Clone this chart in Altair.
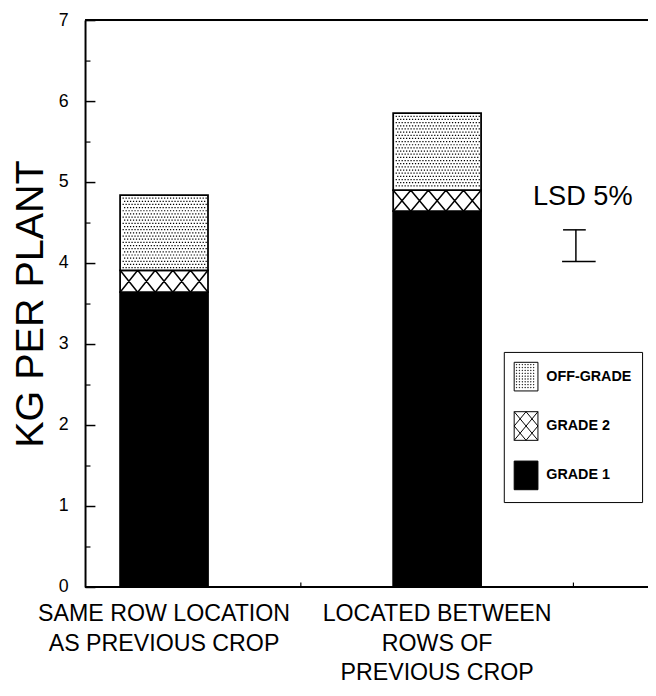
import altair as alt
import pandas as pd

# ---------------- data ----------------
locations = ["SAME ROW LOCATION|AS PREVIOUS CROP", "LOCATED BETWEEN|ROWS OF|PREVIOUS CROP"]
grade_names = ["GRADE 1", "GRADE 2", "OFF-GRADE"]
grade_1 = [3.64, 4.64]
grade_2 = [0.27, 0.26]
off_grade = [0.93, 0.95]
lsd_low = [4.02]
lsd_high = [4.41]
y_ticks = [0, 1, 2, 3, 4, 5, 6, 7]
y_minor_ticks = [0.5, 1.5, 2.5, 3.5, 4.5, 5.5, 6.5]
frame_lines = [0, 7]
legend_order = ["OFF-GRADE", "GRADE 2", "GRADE 1"]

# ---------------- layout / style ----------------
W, H = 570, 574
PX = H / 7.0
STEP = 276.5
BAR_W = 89
R = BAR_W / 2.0
FONT = "Liberation Sans"


def u(v, r=R):
    return f"{v / r:.4f}"


def hatch_path(h):
    p = BAR_W / 5.0
    parts = []
    for k in range(5):
        xa = -R + k * p
        xb = xa + p
        parts.append(f"M{u(xa)},{u(-h / 2)}L{u(xb)},{u(h / 2)}")
        parts.append(f"M{u(xb)},{u(-h / 2)}L{u(xa)},{u(h / 2)}")
    return "".join(parts)


def dots_path(h):
    parts = []
    d = 1.25
    y = -h / 2 + 2.5
    row = 0
    while y <= h / 2 - 2.5:
        x = -R + 2.5 + (1.5 if row % 2 else 0)
        while x <= R - 2.5:
            parts.append(f"M{u(x)},{u(y)}h{u(d)}v{u(d)}h{u(-d)}Z")
            x += 3.0
        y += 3.2
        row += 1
    return "".join(parts)


rows = []
for i, loc in enumerate(locations):
    for rank, (g, vals) in enumerate(zip(grade_names, [grade_1, grade_2, off_grade])):
        v = vals[i]
        h = v * PX
        if g == "GRADE 2":
            pat = hatch_path(h)
        elif g == "OFF-GRADE":
            pat = dots_path(h)
        else:
            pat = ""
        rows.append({"location": loc, "grade": g, "value": v, "rank": rank, "pattern": pat})
df = pd.DataFrame(rows)

x0 = (166 - 86) - STEP / 2.0
x_scale = alt.Scale(domain=locations, range=[x0, x0 + 2 * STEP], paddingInner=0, paddingOuter=0)
x_bottom = alt.X(
    "location:N", sort=locations, scale=x_scale,
    axis=alt.Axis(
        title=None, domain=False, ticks=False, labelAngle=0,
        labelExpr="split(datum.label, '|')",
        labelFont=FONT, labelFontSize=23.5, labelLineHeight=30, labelColor="black",
        labelPadding=15, labelLimit=400,
    ),
)
x_none = alt.X("location:N", sort=locations, scale=x_scale, axis=None)
x_inner_ticks = alt.X(
    "location:N", sort=locations, scale=x_scale,
    axis=alt.Axis(
        orient="top", offset=-H, title=None, labels=False, domain=False, grid=False,
        bandPosition=1, tickExtra=False, tickSize=5, tickColor="black", tickWidth=1.2,
    ),
)
y_scale = alt.Scale(domain=[0, 7], nice=False, zero=True)

# legend symbol shapes
rect = "M-1,-1H0.66V1H-1Z"
leg_g1 = rect
leg_g2 = rect + "M-1,-1L0.66,1M0.66,-1L-1,1M-0.17,-1L0.66,0L-0.17,1L-1,0Z"
dd = []
yy = -0.85
while yy < 0.9:
    xx = -0.85
    while xx < 0.55:
        dd.append(f"M{xx:.3f},{yy:.3f}h0.03v0.03h-0.03Z")
        xx += 0.2
    yy += 0.2
leg_off = rect + "".join(dd)

stacked = alt.Chart(df).transform_stack(
    stack="value", groupby=["location"],
    sort=[alt.SortField("rank", order="ascending")], as_=["y0", "y1"],
)

bars = stacked.mark_bar(
    width=alt.RelativeBandSize(BAR_W / STEP), stroke="black", strokeWidth=1.8
).encode(
    x=x_bottom,
    y=alt.Y(
        "y0:Q", scale=y_scale,
        axis=alt.Axis(
            values=y_ticks, title="KG PER PLANT", titleFont=FONT, titleFontSize=40,
            titleFontWeight="normal", titleColor="black", titlePadding=8,
            ticks=False, grid=False, domainColor="black", domainWidth=2,
            labelFont=FONT, labelFontSize=18, labelColor="black", labelPadding=17,
        ),
    ),
    y2="y1:Q",
    fill=alt.Fill(
        "grade:N",
        scale=alt.Scale(domain=legend_order, range=["white", "white", "black"]),
        legend=None,
    ),
)

mid = stacked.transform_calculate(mid="(datum.y0 + datum.y1) / 2")

hatch = mid.transform_filter("datum.grade === 'GRADE 2'").mark_point(
    filled=False, stroke="black", strokeWidth=1.5, opacity=1, size=BAR_W ** 2
).encode(
    x=x_none,
    y=alt.Y("mid:Q", scale=y_scale, axis=None),
    shape=alt.Shape("pattern:N", scale=None),
)

dots = mid.transform_filter("datum.grade === 'OFF-GRADE'").mark_point(
    filled=True, fill="black", strokeWidth=0, opacity=1, size=BAR_W ** 2
).encode(
    x=x_none,
    y=alt.Y("mid:Q", scale=y_scale, axis=None),
    shape=alt.Shape("pattern:N", scale=None),
)

leg_common = dict(
    title=None, orient="none", legendX=424, legendY=336,
    strokeColor="black", fillColor="white", padding=10, cornerRadius=0,
    symbolSize=841, symbolStrokeColor="black", symbolStrokeWidth=1,
    symbolOpacity=1, labelFont=FONT, labelFontSize=14.5, labelFontWeight="bold",
    labelColor="black", labelOffset=3, rowPadding=16,
)
legend_layer = alt.Chart(df).transform_filter("false").mark_point(
    filled=True, opacity=1, size=841
).encode(
    x=x_inner_ticks,
    y=alt.Y("value:Q", scale=y_scale, axis=None),
    fill=alt.Fill(
        "grade:N",
        scale=alt.Scale(domain=legend_order, range=["white", "white", "black"]),
        legend=alt.Legend(**leg_common),
    ),
    stroke=alt.Stroke(
        "grade:N",
        scale=alt.Scale(domain=legend_order, range=["black", "black", "black"]),
        legend=alt.Legend(**leg_common),
    ),
    shape=alt.Shape(
        "grade:N",
        scale=alt.Scale(domain=legend_order, range=[leg_off, leg_g2, leg_g1]),
        legend=alt.Legend(**leg_common),
    ),
)

frame_df = pd.DataFrame({"f": frame_lines})
frame = alt.Chart(frame_df).mark_rule(color="black", strokeWidth=2).encode(
    y=alt.Y(
        "f:Q", scale=y_scale,
        axis=alt.Axis(
            orient="right", offset=-W, values=y_ticks,
            labels=False, domain=False, grid=False, title=None,
            tickColor="black", tickWidth=1.5, tickSize=10,
        ),
    )
)
minor = alt.Chart(frame_df).mark_rule(opacity=0).encode(
    y=alt.Y(
        "f:Q", scale=y_scale,
        axis=alt.Axis(
            orient="right", offset=-W, values=y_minor_ticks,
            labels=False, domain=False, grid=False, title=None,
            tickColor="black", tickWidth=1.2, tickSize=5,
        ),
    )
)

lsd_df = pd.DataFrame({"low": lsd_low, "high": lsd_high})
lsd_stem = alt.Chart(lsd_df).mark_rule(color="black", strokeWidth=1.5).encode(
    x=alt.value(497), y=alt.Y("low:Q", scale=y_scale, axis=None), y2="high:Q"
)
lsd_top = alt.Chart(lsd_df).mark_rule(color="black", strokeWidth=1.5).encode(
    x=alt.value(484), x2=alt.value(507), y=alt.Y("high:Q", scale=y_scale, axis=None)
)
lsd_bot = alt.Chart(lsd_df).mark_rule(color="black", strokeWidth=1.5).encode(
    x=alt.value(483), x2=alt.value(517), y=alt.Y("low:Q", scale=y_scale, axis=None)
)
lsd_text = alt.Chart(pd.DataFrame({"t": ["LSD 5%"]})).mark_text(
    font=FONT, fontSize=27.5, color="black", align="center", baseline="alphabetic"
).encode(x=alt.value(504), y=alt.value(187), text="t:N")

chart = alt.layer(
    bars, hatch, dots, legend_layer, frame, minor, lsd_stem, lsd_top, lsd_bot, lsd_text
).resolve_axis(y="independent", x="independent").resolve_scale(
    fill="independent", shape="independent", stroke="independent"
).properties(
    width=W, height=H,
    padding={"left": 78, "top": 8, "right": 0, "bottom": 96},
    autosize=alt.AutoSizeParams(type="none"),
).configure_view(stroke=None).configure(background="white")

chart.save("out.html", embed_options={"renderer": "svg", "actions": False})
